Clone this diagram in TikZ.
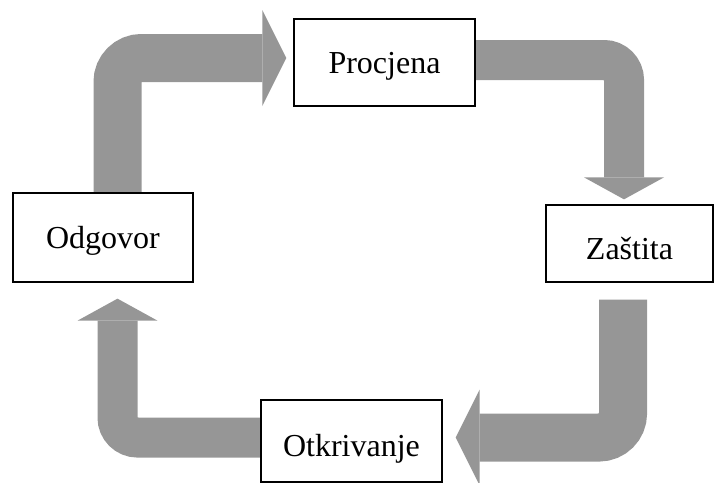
\documentclass[tikz,border=0pt]{standalone}
\usepackage{fontspec}
\setmainfont{Liberation Serif}
\usetikzlibrary{arrows.meta,backgrounds}
\definecolor{arrowGray}{RGB}{150,150,150}

\begin{document}
\begin{tikzpicture}[x=1pt, y=-1pt,
        stepBox/.style={draw, line width=1.3pt, fill=white, inner sep=0pt,
            text height=21pt, text depth=0pt, font=\fontsize{32}{38}\selectfont},
        lowText/.style={text height=31pt},
        bigArrow/.style={draw=arrowGray, line width=48pt, rounded corners=24pt,
            -{Triangle[length=24pt, width=96pt, line width=0pt]}},
        smallArrow/.style={draw=arrowGray, line width=40pt, rounded corners=20pt,
            -{Triangle[length=22pt, width=80pt, line width=0pt]}}]
    \useasboundingbox (0,0) rectangle (714,482);

    \node[stepBox, minimum width=181pt, minimum height=87pt] (proc) at (384.5,62.5) {Procjena};
    \node[stepBox, lowText, minimum width=167pt, minimum height=77pt] (zas) at (629.5,243.5) {Zaštita};
    \node[stepBox, lowText, minimum width=181pt, minimum height=82pt] (otk) at (351.5,441) {Otkrivanje};
    \node[stepBox, minimum width=180pt, minimum height=89pt] (odg) at (103,237.5) {Odgovor};

    \begin{scope}[on background layer]
        \draw[bigArrow, shorten >=7pt] ([xshift=14.5pt]odg.north) |- ([yshift=4.5pt]proc.west);
        \draw[smallArrow, shorten >=5pt] ([yshift=2.5pt]proc.east) -| ([xshift=-5.5pt]zas.north);
        \draw[bigArrow, shorten <=17pt, shorten >=13pt] ([xshift=-6.5pt]zas.south) |- ([yshift=3.5pt]otk.east);
        \draw[smallArrow, shorten >=16pt] ([yshift=3.5pt]otk.west) -| ([xshift=14.5pt]odg.south);
    \end{scope}
\end{tikzpicture}
\end{document}
